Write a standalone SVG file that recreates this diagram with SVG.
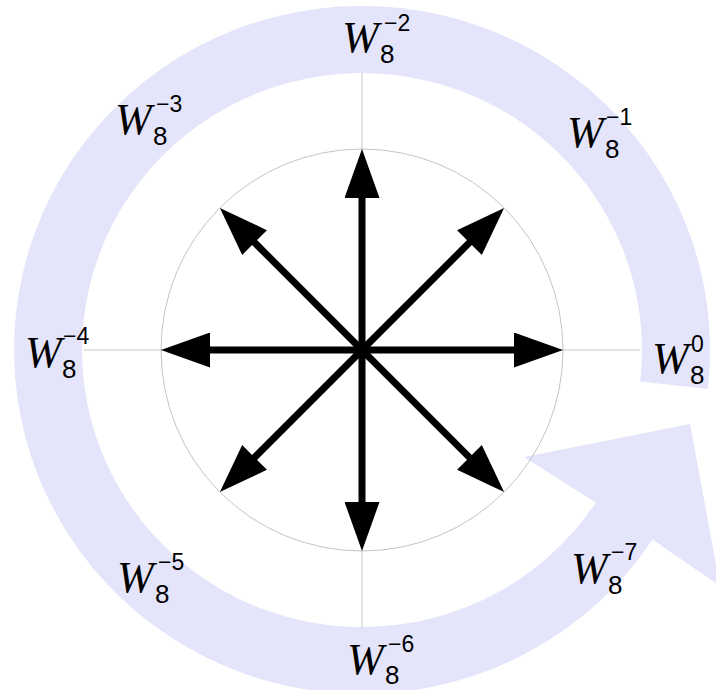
<svg xmlns="http://www.w3.org/2000/svg" width="716" height="690" viewBox="0 0 716 690">
<style>
.band{fill:#e4e4fa;stroke:none}
.axis{stroke:#c4c4c4;stroke-width:1;fill:none}
.shaft{stroke:#000;stroke-width:7;fill:none}
.w{font-family:"Liberation Serif","DejaVu Serif",serif;font-style:italic;font-size:44px;fill:#000}
.sb{font-family:"Liberation Sans","DejaVu Sans",sans-serif;font-size:26px;fill:#000}
.sp{font-family:"Liberation Sans","DejaVu Sans",sans-serif;font-size:23px;fill:#000}
</style>
<defs>
<marker id="head" markerUnits="userSpaceOnUse" markerWidth="49" markerHeight="35" refX="8" refY="17.5" orient="auto" viewBox="0 0 49 35">
<path d="M0,0 L49,17.5 L0,35 Z" fill="#000"/>
</marker>
</defs>
<g id="band">
<path class="band" d="M707.8,388.9 A348,344 0 1 0 652.5,539.4 L720,586 L690,424 L524,457 L595.8,502.5 A280,277 0 1 1 640.2,381.4 Z"/>
</g>
<g id="axes">
<line class="axis" x1="84" y1="350" x2="640" y2="350"/>
<line class="axis" x1="362" y1="73" x2="362" y2="628"/>
<circle class="axis" cx="362" cy="350" r="201"/>
</g>
<g id="connectors">
<line class="shaft" x1="362" y1="350" x2="522" y2="350" marker-end="url(#head)"/>
<line class="shaft" x1="362" y1="350" x2="475.1" y2="236.9" marker-end="url(#head)"/>
<line class="shaft" x1="362" y1="350" x2="362" y2="190" marker-end="url(#head)"/>
<line class="shaft" x1="362" y1="350" x2="248.9" y2="236.9" marker-end="url(#head)"/>
<line class="shaft" x1="362" y1="350" x2="202" y2="350" marker-end="url(#head)"/>
<line class="shaft" x1="362" y1="350" x2="248.9" y2="463.1" marker-end="url(#head)"/>
<line class="shaft" x1="362" y1="350" x2="362" y2="510" marker-end="url(#head)"/>
<line class="shaft" x1="362" y1="350" x2="475.1" y2="463.1" marker-end="url(#head)"/>
</g>
<g id="label-0"><text class="w" x="652" y="373">W</text><text class="sb" x="690" y="384">8</text><text class="sp" x="691" y="352">0</text></g>
<g id="label-m1"><text class="w" x="567" y="147">W</text><text class="sb" x="605" y="158">8</text><text class="sp" x="606" y="125">−1</text></g>
<g id="label-m2"><text class="w" x="342" y="52">W</text><text class="sb" x="380" y="63">8</text><text class="sp" x="384" y="31">−2</text></g>
<g id="label-m3"><text class="w" x="115" y="134">W</text><text class="sb" x="153" y="145">8</text><text class="sp" x="156" y="112">−3</text></g>
<g id="label-m4"><text class="w" x="25" y="367">W</text><text class="sb" x="62" y="378">8</text><text class="sp" x="63" y="344">−4</text></g>
<g id="label-m5"><text class="w" x="117" y="592">W</text><text class="sb" x="155" y="603">8</text><text class="sp" x="158" y="570">−5</text></g>
<g id="label-m6"><text class="w" x="347" y="674">W</text><text class="sb" x="385" y="684">8</text><text class="sp" x="388" y="652">−6</text></g>
<g id="label-m7"><text class="w" x="571" y="583">W</text><text class="sb" x="608" y="594">8</text><text class="sp" x="611" y="560">−7</text></g>
</svg>
